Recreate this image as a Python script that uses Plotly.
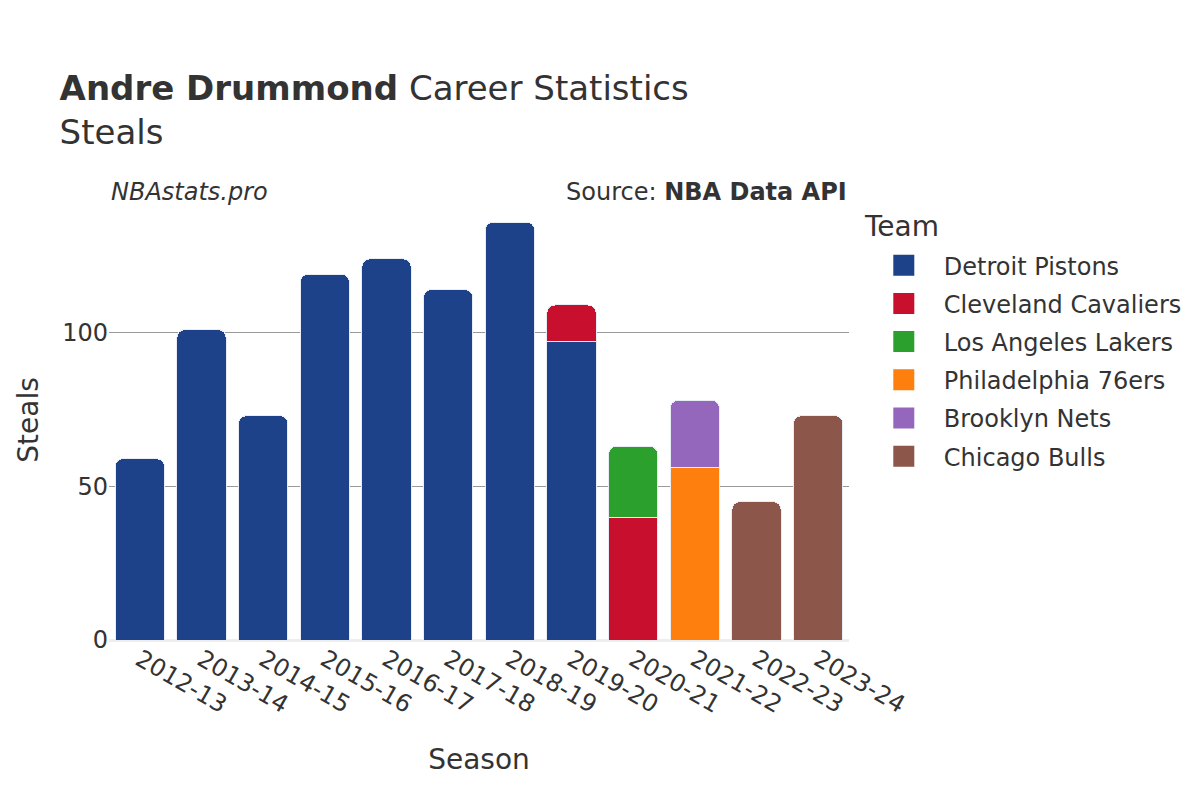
import plotly.graph_objects as go

seasons = ["2012-13", "2013-14", "2014-15", "2015-16", "2016-17", "2017-18",
           "2018-19", "2019-20", "2020-21", "2021-22", "2022-23", "2023-24"]

teams = ["Detroit Pistons", "Cleveland Cavaliers", "Los Angeles Lakers",
         "Philadelphia 76ers", "Brooklyn Nets", "Chicago Bulls"]

detroit = [59, 101, 73, 119, 124, 114, 136, 97, None, None, None, None]
cleveland = [None, None, None, None, None, None, None, 12, 40, None, None, None]
lakers = [None, None, None, None, None, None, None, None, 23, None, None, None]
philly = [None, None, None, None, None, None, None, None, None, 56, None, None]
brooklyn = [None, None, None, None, None, None, None, None, None, 22, None, None]
chicago = [None, None, None, None, None, None, None, None, None, None, 45, 73]

colors = ["#1D428A", "#C8102E", "#2CA02C", "#FF7F0E", "#9467BD", "#8C564B"]
series = [detroit, cleveland, lakers, philly, brooklyn, chicago]

FONT = "DejaVu Sans"

fig = go.Figure()
for name, vals, col in zip(teams, series, colors):
    fig.add_trace(go.Bar(
        x=seasons, y=vals, name=name, showlegend=False, legendgroup=name,
        marker=dict(color=col, line=dict(color="#E8ECF5", width=1)),
    ))

# legend entries (large square chips)
for name, col in zip(teams, colors):
    fig.add_trace(go.Scatter(
        x=[None], y=[None], mode="markers", name=name, legendgroup=name,
        marker=dict(symbol="square", size=16, color=col,
                    line=dict(color=col, width=5)),
        hoverinfo="skip",
    ))

fig.update_layout(
    barmode="stack",
    barcornerradius=8,
    bargap=0.2,
    width=1200, height=800,
    paper_bgcolor="white", plot_bgcolor="white",
    font=dict(family=FONT, color="#333333", size=24),
    margin=dict(l=101, r=359, t=192, b=168),
    title=dict(
        text="<b>Andre Drummond</b> Career Statistics<br>Steals",
        x=0.043, xanchor="left", y=0.885, yanchor="top",
        font=dict(family=FONT, size=34, color="#333333"),
    ),
    legend=dict(
        font=dict(size=24),
        x=1.02, xanchor="left", y=0.902, yanchor="top",
        itemwidth=70,
        tracegroupgap=4,
        traceorder="grouped",
    ),
    xaxis=dict(
        title=dict(text="Season", font=dict(size=28), standoff=31),
        tickangle=30,
        tickfont=dict(size=24),
        showgrid=False,
    ),
    yaxis=dict(
        title=dict(text="Steals", font=dict(size=28)),
        tickfont=dict(size=24),
        showgrid=True, gridcolor="#999999", gridwidth=1,
        zeroline=True, zerolinecolor="#EEEEEE", zerolinewidth=3,
        tickvals=[0, 50, 100],
    ),
    annotations=[
        dict(text="<i>NBAstats.pro</i>", xref="paper", yref="paper",
             x=0.0, y=0.981, xanchor="left", yanchor="bottom",
             showarrow=False, font=dict(size=24, color="#333333")),
        dict(text="Source: <b>NBA Data API</b>", xref="paper", yref="paper",
             x=1.0, y=0.981, xanchor="right", yanchor="bottom",
             showarrow=False, font=dict(size=24, color="#333333")),
        dict(text="Team", xref="paper", yref="paper",
             x=1.0178, y=0.9409, xanchor="left", yanchor="middle",
             showarrow=False, font=dict(size=28, color="#333333")),
    ],
)

fig.write_html("out.html")
